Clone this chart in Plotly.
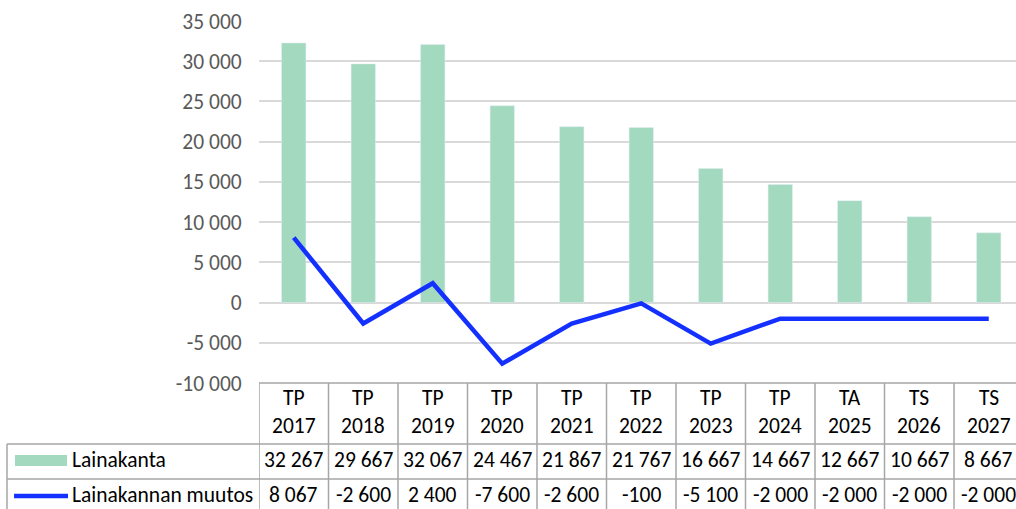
import plotly.graph_objects as go

## Data
categories = ["TP 2017", "TP 2018", "TP 2019", "TP 2020", "TP 2021", "TP 2022",
              "TP 2023", "TP 2024", "TA 2025", "TS 2026", "TS 2027"]
header_top = ["TP", "TP", "TP", "TP", "TP", "TP", "TP", "TP", "TA", "TS", "TS"]
header_year = ["2017", "2018", "2019", "2020", "2021", "2022",
               "2023", "2024", "2025", "2026", "2027"]
lainakanta = [32267, 29667, 32067, 24467, 21867, 21767, 16667, 14667, 12667, 10667, 8667]
muutos = [8067, -2600, 2400, -7600, -2600, -100, -5100, -2000, -2000, -2000, -2000]
y_ticks = [-10000, -5000, 0, 5000, 10000, 15000, 20000, 25000, 30000, 35000]
y_tick_text = ["-10 000", "-5 000", "0", "5 000", "10 000", "15 000",
               "20 000", "25 000", "30 000", "35 000"]
series_names = ["Lainakanta", "Lainakannan muutos"]

FONT = "Calibri, Carlito, Liberation Sans, sans-serif"
FS = 21.5
BAR_COLOR = "#A2D9BF"
LINE_COLOR = "#1430FF"
GRID = "#D9D9D9"
BORDER = "#A6A6A6"


def fmt(v):
    return f"{v:,}".replace(",", " ")


fig = go.Figure()
fig.add_trace(go.Bar(x=categories, y=lainakanta, name=series_names[0],
                     marker_color=BAR_COLOR, width=0.35))
fig.add_trace(go.Scatter(x=categories, y=muutos, name=series_names[1], mode="lines",
                         line=dict(color=LINE_COLOR, width=4.5)))

## Data table below the plot
row1_y, row2_y = -0.1685, -0.2652
left_x = -0.3329

shapes = []
shapes.append(dict(type="line", xref="paper", yref="paper", x0=0, x1=1, y0=0, y1=0,
                   line=dict(color=BORDER, width=1.5)))
for yy in [row1_y, row2_y]:
    shapes.append(dict(type="line", xref="paper", yref="paper", x0=left_x, x1=1, y0=yy, y1=yy,
                       line=dict(color=BORDER, width=1.5)))
shapes.append(dict(type="line", xref="paper", yref="paper", x0=left_x, x1=left_x,
                   y0=row1_y, y1=-0.4, line=dict(color=BORDER, width=1.5)))
for i in range(len(categories) + 1):
    shapes.append(dict(type="line", xref="x", yref="paper", x0=i - 0.5, x1=i - 0.5,
                       y0=0, y1=-0.4, line=dict(color=BORDER, width=1.5)))

# legend keys
shapes.append(dict(type="rect", xref="paper", yref="paper", x0=-0.3223, x1=-0.2536,
                   y0=-0.2293, y1=-0.1989, fillcolor=BAR_COLOR, line_width=0))
shapes.append(dict(type="line", xref="paper", yref="paper", x0=-0.3236, x1=-0.2523,
                   y0=-0.3122, y1=-0.3122, line=dict(color=LINE_COLOR, width=4.5)))

annotations = []
for i, c in enumerate(categories):
    for txt, yy in [(header_top[i], -0.042), (header_year[i], -0.118),
                    (fmt(lainakanta[i]), -0.2128), (fmt(muutos[i]), -0.3094)]:
        annotations.append(dict(x=c, y=yy, xref="x", yref="paper", text=txt, showarrow=False,
                                xanchor="center", yanchor="middle",
                                font=dict(family=FONT, size=FS, color="#000000")))
for name, yy in zip(series_names, [-0.2128, -0.3094]):
    annotations.append(dict(x=-0.2497, y=yy, xref="paper", yref="paper", text=name,
                            showarrow=False, xanchor="left", yanchor="middle",
                            font=dict(family=FONT, size=FS, color="#000000")))

fig.update_layout(
    width=1016, height=509,
    margin=dict(l=259, r=0, t=21, b=126),
    plot_bgcolor="white", paper_bgcolor="white",
    showlegend=False, bargap=0.65,
    shapes=shapes, annotations=annotations,
    font=dict(family=FONT, size=FS, color="#595959"),
)
fig.update_xaxes(range=[-0.5, 10.392], showticklabels=False, showgrid=False,
                 zeroline=False, showline=False)
fig.update_yaxes(range=[-10000, 35000], tickvals=y_ticks, ticktext=y_tick_text,
                 showgrid=True, gridcolor=GRID, gridwidth=1.5, zeroline=False,
                 ticks="outside", ticklen=12, tickcolor="rgba(0,0,0,0)",
                 tickfont=dict(family=FONT, size=FS, color="#595959"))

# drop the page's default body margin so the figure fills the window exactly
fig.write_html("out.html", config={"displayModeBar": False},
               post_script="document.body.style.margin='0';document.body.style.overflow='hidden';")
